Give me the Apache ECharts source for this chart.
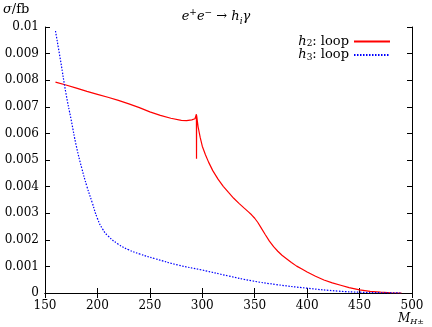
<!DOCTYPE html>
<html>
<head>
<meta charset="utf-8">
<script src="https://cdn.jsdelivr.net/npm/echarts@6/dist/echarts.min.js"></script>
<style>
html, body { margin: 0; padding: 0; background: #fff; }
#chart { width: 432px; height: 327px; }
</style>
</head>
<body>
<div id="chart"></div>
<script>
// h2: loop (red)
var massH2 = [160, 170, 180, 190, 200, 210, 220, 230, 240, 250, 260, 270, 280, 285, 290, 293,
	294.4, 294.5, 294.6, 296, 298, 300, 303, 306, 310, 315, 320, 325, 330, 335, 340, 344,
	347, 350, 353, 356, 360, 364, 368, 372, 376, 380, 385, 390, 395, 400, 408, 416,
	424, 432, 440, 450, 460, 470, 480, 490];
var sigmaH2 = [0.00793, 0.00782, 0.00770, 0.00758, 0.00747, 0.00736, 0.00724, 0.00711, 0.00697, 0.00681, 0.00668, 0.00657, 0.00649, 0.00648, 0.00651, 0.00655,
	0.00672, 0.00505, 0.00668, 0.00625, 0.00585, 0.00552, 0.00520, 0.00492, 0.00460, 0.00428, 0.00401, 0.00378, 0.00356, 0.00337, 0.00319, 0.00305,
	0.00294, 0.00281, 0.00265, 0.00246, 0.00220, 0.00195, 0.00174, 0.00157, 0.00142, 0.00130, 0.00115, 0.00101, 0.00090, 0.00079, 0.00063, 0.00049,
	0.00038, 0.00029, 0.00020, 0.00012, 0.00006, 0.00003, 0.00001, 0];

// h3: loop (blue, dotted)
var massH3 = [160, 165, 170, 175, 180, 185, 190, 195, 200, 205, 210, 220, 230, 240, 255, 277,
	299, 325, 347, 370, 400, 430, 450, 470, 490];
var sigmaH3 = [0.00985, 0.0087, 0.0075, 0.0065, 0.0055, 0.0047, 0.0040, 0.0034, 0.0028, 0.0024, 0.00215, 0.00183, 0.00162, 0.00147, 0.00129, 0.00105,
	0.00087, 0.00064, 0.00046, 0.00032, 0.00018, 0.00007, 0.00003, 0.00001, 0];

var xTicks = [150, 200, 250, 300, 350, 400, 450, 500];
var seriesNames = ['h2', 'h3'];

var font = 'DejaVu Serif';

function pairs(xs, ys) {
	return xs.map(function(x, i) { return [x, ys[i]]; });
}

var myChart = echarts.init(document.getElementById('chart'));

var boxAxis = {
	axisLine: { show: true, lineStyle: { color: '#000', width: 1 } },
	axisTick: { show: true, inside: true, length: 5, lineStyle: { color: '#000' } },
	splitLine: { show: false }
};

var option = {
	animation: false,
	backgroundColor: '#fff',
	title: {
		text: '{i|e}{sup|+}{i|e}{sup|−}{n| → }{i|h}{sub|i}{i|γ}',
		left: 'center',
		top: 3,
		textStyle: {
			fontFamily: font,
			fontWeight: 'normal',
			color: '#000',
			rich: {
				i: { fontFamily: font, fontStyle: 'italic', fontSize: 13, lineHeight: 18, color: '#000' },
				n: { fontFamily: font, fontSize: 13, lineHeight: 18, color: '#000' },
				sup: { fontFamily: font, fontSize: 9, lineHeight: 10, verticalAlign: 'top', color: '#000' },
				sub: { fontFamily: font, fontStyle: 'italic', fontSize: 9, lineHeight: 10, verticalAlign: 'bottom', color: '#000' }
			}
		}
	},
	grid: { left: 45, right: 20, top: 27, bottom: 34 },
	legend: {
		data: seriesNames,
		orient: 'vertical',
		right: 36,
		top: 30,
		align: 'right',
		itemWidth: 36,
		itemHeight: 14,
		itemGap: 0,
		itemStyle: { opacity: 0 },
		formatter: function(name) {
			return '{i|h}{sub|' + name.slice(1) + '}{n|: loop}';
		},
		textStyle: {
			fontFamily: font,
			color: '#000',
			rich: {
				i: { fontFamily: font, fontStyle: 'italic', fontSize: 13, lineHeight: 14, color: '#000' },
				n: { fontFamily: font, fontSize: 13, lineHeight: 14, color: '#000' },
				sub: { fontFamily: font, fontSize: 9, lineHeight: 8, verticalAlign: 'bottom', color: '#000' }
			}
		}
	},
	xAxis: [
		Object.assign({
			type: 'value', min: xTicks[0], max: xTicks[xTicks.length - 1], interval: 50,
			axisLabel: { fontFamily: font, fontSize: 12, color: '#000', margin: 7 }
		}, boxAxis),
		Object.assign({
			type: 'value', position: 'top', min: xTicks[0], max: xTicks[xTicks.length - 1], interval: 50,
			axisLabel: { show: false }
		}, boxAxis)
	],
	yAxis: [
		Object.assign({
			type: 'value', min: 0, max: 0.01, interval: 0.001,
			axisLabel: {
				fontFamily: font, fontSize: 12, color: '#000', margin: 6,
				formatter: function(v) { return v === 0 ? '0' : String(+v.toFixed(3)); }
			}
		}, boxAxis),
		Object.assign({
			type: 'value', position: 'right', min: 0, max: 0.01, interval: 0.001,
			axisLabel: { show: false }
		}, boxAxis)
	],
	graphic: [
		{
			type: 'text', left: 3, top: 3,
			style: {
				text: '{i|σ}{n|/fb}',
				rich: {
					i: { fontFamily: font, fontStyle: 'italic', fontSize: 13, fill: '#000' },
					n: { fontFamily: font, fontSize: 13, fill: '#000' }
				}
			}
		},
		{
			type: 'text', left: 398, top: 313,
			style: {
				text: '{i|M}{sub|H±}',
				rich: {
					i: { fontFamily: font, fontStyle: 'italic', fontSize: 12, lineHeight: 14, fill: '#000' },
					sub: { fontFamily: font, fontStyle: 'italic', fontSize: 8, lineHeight: 8, verticalAlign: 'bottom', fill: '#000' }
				}
			}
		}
	],
	series: [
		{
			name: seriesNames[0],
			type: 'line',
			data: pairs(massH2, sigmaH2),
			showSymbol: false,
			symbol: 'none',
			smooth: false,
			lineStyle: { color: '#ff0000', width: 1.2 },
			itemStyle: { color: '#ff0000' }
		},
		{
			name: seriesNames[1],
			type: 'line',
			data: pairs(massH3, sigmaH3),
			showSymbol: false,
			symbol: 'none',
			smooth: true,
			lineStyle: { color: '#0000ff', width: 1.2, type: [1.5, 1.5] },
			itemStyle: { color: '#0000ff' }
		}
	]
};
myChart.setOption(option);
</script>
</body>
</html>
